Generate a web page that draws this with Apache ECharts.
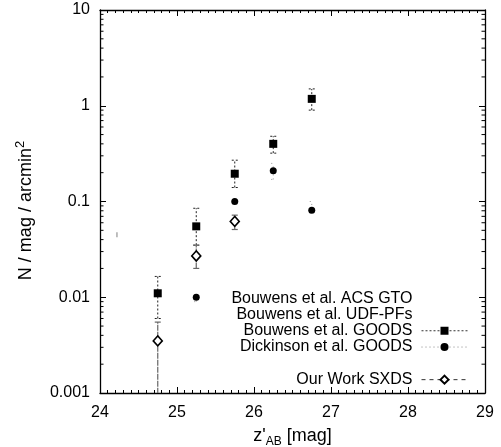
<!DOCTYPE html>
<html><head><meta charset="utf-8">
<script src="https://cdn.jsdelivr.net/npm/echarts@6/dist/echarts.min.js"></script>
<style>html,body{margin:0;padding:0;background:#fff}#c{width:501px;height:447px}</style>
</head><body><div id="c"></div>
<script>
var yTickLabels = {'10':'10','1':'1','0.1':'0.1','0.01':'0.01','0.001':'0.001'};
var xTickLabels = ['24','25','26','27','28','29'];

var xGoods = [24.75, 25.25, 25.75, 26.25, 26.75];
var yGoods = [0.011, 0.055, 0.195, 0.40, 1.18];
var goodsHi = [0.0165, 0.085, 0.27, 0.48, 1.5];
var goodsLo = [0.006, 0.035, 0.14, 0.32, 0.9];

var xDick = [25.25, 25.75, 26.25, 26.75];
var yDick = [0.010, 0.10, 0.21, 0.081];
var dickHi = [0.0106, 0.105, 0.25, 0.10];
var dickLo = [0.009, 0.095, 0.17, 0.076];

var xSxds = [24.75, 25.25, 25.75];
var ySxds = [0.0035, 0.027, 0.062];
var sxdsHi = [0.0055, 0.035, 0.072];
var sxdsLo = [0.0005, 0.020, 0.051];

var xGto = [24.22];
var yGto = [0.045];

var FONT = 'Liberation Sans';

function pts(xs, ys){ return xs.map(function(x,i){return [x, ys[i]];}); }
function errs(xs, lo, hi){ return xs.map(function(x,i){return [x, lo[i], hi[i]];}); }

var minorVals = [];
[-3,-2,-1,0].forEach(function(e){ for (var m=2;m<=9;m++) minorVals.push(m*Math.pow(10,e)); });

function errRender(style, cap){
  return function(params, api){
    var x = api.value(0);
    var p1 = api.coord([x, api.value(1)]);
    var p2 = api.coord([x, api.value(2)]);
    return {type:'group', children:[
      {type:'line', shape:{x1:p1[0],y1:p1[1],x2:p2[0],y2:p2[1]}, style:style},
      {type:'line', shape:{x1:p1[0]-cap,y1:p1[1],x2:p1[0]+cap,y2:p1[1]}, style:style},
      {type:'line', shape:{x1:p2[0]-cap,y1:p2[1],x2:p2[0]+cap,y2:p2[1]}, style:style}
    ]};
  };
}

var chart = echarts.init(document.getElementById('c'), null, {renderer:'canvas'});
var axisLine = {show:true, lineStyle:{color:'#000', width:1.3}};
chart.setOption({
  animation:false,
  textStyle:{fontFamily:FONT},
  grid:{left:100, right:16, top:10, bottom:54, show:false, containLabel:false, outerBoundsMode:'none'},
  legend:{
    orient:'vertical', align:'right', right:28, top:285, padding:5,
    itemWidth:46, itemHeight:10, itemGap:0,
    textStyle:{fontFamily:FONT, fontSize:16, lineHeight:16.3, color:'#000', padding:[0,4,0,0]},
    data:[
      {name:'Bouwens et al. ACS GTO', icon:'none'},
      {name:'Bouwens et al. UDF-PFs', icon:'none'},
      {name:'Bouwens et al. GOODS', lineStyle:{opacity:1, width:1, type:[2,2], color:'#333'}},
      {name:'Dickinson et al. GOODS', lineStyle:{opacity:1, width:1, type:[1,3], color:'#888'}},
      {name:'\u00a0', icon:'none'},
      {name:'Our Work SXDS', lineStyle:{opacity:1, width:1, type:[4,4], color:'#333'}}
    ]
  },
  xAxis:[{
    type:'value', min:24, max:29, interval:1,
    axisLine:axisLine,
    axisTick:{show:true, inside:true, length:6, lineStyle:{color:'#000'}},
    minorTick:{show:true, splitNumber:10, length:3, lineStyle:{color:'#000'}},
    splitLine:{show:false},
    axisLabel:{fontFamily:FONT, fontSize:16, color:'#000', margin:12,
      formatter:function(v){ return xTickLabels[Math.round(v-24)]; }},
    name:'{a|z\'}{s|AB}{a| [mag]}', nameLocation:'middle', nameGap:31,
    nameTextStyle:{rich:{
      a:{fontFamily:FONT, fontSize:18, color:'#000', lineHeight:24},
      s:{fontFamily:FONT, fontSize:12, color:'#000', lineHeight:24, verticalAlign:'bottom'}
    }}
  },{
    type:'value', min:24, max:29, interval:1, position:'top',
    axisLine:axisLine,
    axisTick:{show:true, inside:true, length:6, lineStyle:{color:'#000'}},
    minorTick:{show:true, splitNumber:10, length:3, lineStyle:{color:'#000'}},
    splitLine:{show:false}, axisLabel:{show:false}
  }],
  yAxis:[{
    type:'log', min:0.001, max:10, logBase:10,
    axisLine:axisLine,
    axisTick:{show:true, inside:true, length:6, lineStyle:{color:'#000'}},
    splitLine:{show:false},
    axisLabel:{fontFamily:FONT, fontSize:16, color:'#000', margin:10,
      formatter:function(v){ var k = String(+v.toPrecision(3)); return yTickLabels[k] !== undefined ? yTickLabels[k] : k; }},
    name:'{a|N / mag / arcmin}{s|2}', nameLocation:'middle', nameGap:62,
    nameTextStyle:{padding:[0,18,0,0], rich:{
      a:{fontFamily:FONT, fontSize:18, color:'#000', lineHeight:24},
      s:{fontFamily:FONT, fontSize:13, color:'#000', lineHeight:24, verticalAlign:'top'}
    }}
  },{
    type:'log', min:0.001, max:10, logBase:10, position:'right',
    axisLine:axisLine,
    axisTick:{show:true, inside:true, length:6, lineStyle:{color:'#000'}},
    splitLine:{show:false}, axisLabel:{show:false}
  }],
  series:[
    {type:'custom', name:'minor', silent:true, data:minorVals.map(function(v){return [24, v];}),
      renderItem:function(params, api){
        var p = api.coord([24, api.value(1)]);
        var cs = params.coordSys;
        var st = {stroke:'#000', lineWidth:1};
        return {type:'group', children:[
          {type:'line', shape:{x1:cs.x, y1:p[1], x2:cs.x+3.5, y2:p[1]}, style:st},
          {type:'line', shape:{x1:cs.x+cs.width, y1:p[1], x2:cs.x+cs.width-3.5, y2:p[1]}, style:st}
        ]};
      }},
    {type:'custom', name:'goodsErr', silent:true, clip:true, data:errs(xGoods, goodsLo, goodsHi),
      renderItem:errRender({stroke:'#222', lineWidth:1, lineDash:[2,2]}, 3)},
    {type:'custom', name:'dickErr', silent:true, clip:true, data:errs(xDick, dickLo, dickHi),
      renderItem:errRender({stroke:'#999', lineWidth:1, lineDash:[1,3]}, 2)},
    {type:'custom', name:'sxdsErr', silent:true, clip:true, data:errs(xSxds, sxdsLo, sxdsHi),
      renderItem:errRender({stroke:'#666', lineWidth:1.2, lineDash:[6,1]}, 3)},
    {type:'line', name:'Bouwens et al. ACS GTO', data:pts(xGto, yGto), symbol:'rect', symbolSize:[1.5,5],
      itemStyle:{color:'#aaa'}, lineStyle:{opacity:0}},
    {type:'line', name:'Bouwens et al. UDF-PFs', data:[], symbol:'none', lineStyle:{opacity:0}},
    {type:'line', name:'Bouwens et al. GOODS', data:pts(xGoods, yGoods), symbol:'rect', symbolSize:8,
      itemStyle:{color:'#000'}, lineStyle:{opacity:0}, z:5},
    {type:'line', name:'Dickinson et al. GOODS', data:pts(xDick, yDick), symbol:'circle', symbolSize:7,
      itemStyle:{color:'#000'}, lineStyle:{opacity:0}, z:5},
    {type:'line', name:'\u00a0', data:[], symbol:'none', lineStyle:{opacity:0}},
    {type:'line', name:'Our Work SXDS', data:pts(xSxds, ySxds), symbol:'diamond', symbolSize:[9,10],
      itemStyle:{color:'#fff', borderColor:'#000', borderWidth:1.6}, lineStyle:{opacity:0}, z:6}
  ]
});
</script></body></html>
